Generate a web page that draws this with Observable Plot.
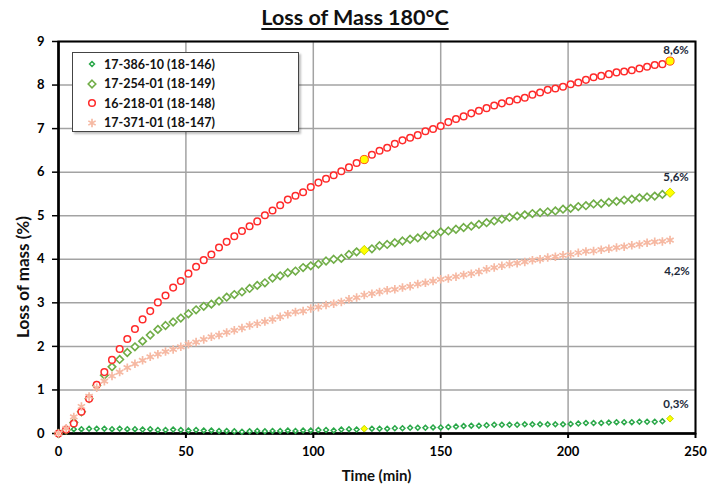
<!DOCTYPE html>
<html>
<head>
<meta charset="utf-8">
<script src="https://cdn.jsdelivr.net/npm/d3@7"></script>
<script src="https://cdn.jsdelivr.net/npm/@observablehq/plot@0.6"></script>
<style>
  html, body { margin: 0; padding: 0; background: #fff; }
  #wrap { position: relative; width: 710px; height: 486px; font-family: Lato, "Open Sans", sans-serif; color: #111; }
  #wrap svg.plot { position: absolute; left: 0; top: 0; }
  .title { position: absolute; left: 0; width: 710px; top: 4px; text-align: center; font-weight: bold; font-size: 21.5px; }
  .title span { text-decoration: underline; text-decoration-thickness: 1.5px; text-underline-offset: 3px; }
  .xlabel { position: absolute; left: 58px; width: 637px; top: 466px; text-align: center; font-weight: bold; font-size: 15px; }
  .ylabel { position: absolute; left: 22px; top: 277px; transform: translate(-50%, -50%) rotate(-90deg); white-space: nowrap; font-weight: bold; font-size: 17px; }
  .legend { position: absolute; left: 72px; top: 52px; width: 227px; height: 80px; background: #fff; border: 1.5px solid #444; box-shadow: 2px 2px 2px rgba(0,0,0,0.25); box-sizing: border-box; }
  .legend .row { position: absolute; left: 0; height: 18px; display: flex; align-items: center; font-weight: bold; font-size: 12.5px; white-space: nowrap; }
  .legend svg { width: 14px; height: 14px; margin-left: 12px; margin-right: 5px; overflow: visible; }
</style>
</head>
<body>
<div id="wrap"></div>
<script>
// ---- data ----
const seriesNames = ["17-386-10 (18-146)", "17-254-01 (18-149)", "16-218-01 (18-148)", "17-371-01 (18-147)"];
const times = [0,3,6,9,12,15,18,21,24,27,30,33,36,39,42,45,48,51,54,57,60,63,66,69,72,75,78,81,84,87,90,93,96,99,102,105,108,111,114,117,120,123,126,129,132,135,138,141,144,147,150,153,156,159,162,165,168,171,174,177,180,183,186,189,192,195,198,201,204,207,210,213,216,219,222,225,228,231,234,237,240];
const s18146 = [0,0.09,0.10,0.10,0.11,0.11,0.11,0.10,0.11,0.10,0.10,0.09,0.10,0.08,0.08,0.09,0.08,0.07,0.08,0.07,0.07,0.06,0.06,0.05,0.04,0.05,0.06,0.05,0.06,0.06,0.07,0.06,0.07,0.07,0.08,0.08,0.07,0.09,0.10,0.09,0.11,0.11,0.11,0.11,0.12,0.12,0.13,0.13,0.13,0.14,0.14,0.15,0.16,0.17,0.18,0.18,0.19,0.20,0.20,0.20,0.20,0.21,0.21,0.21,0.21,0.21,0.21,0.22,0.23,0.24,0.24,0.24,0.25,0.26,0.26,0.26,0.27,0.27,0.27,0.28,0.34];
const s18149 = [0,0.08,0.25,0.50,0.80,1.10,1.34,1.53,1.70,1.86,1.99,2.12,2.26,2.39,2.48,2.56,2.65,2.75,2.84,2.92,2.97,3.04,3.13,3.19,3.25,3.33,3.40,3.46,3.57,3.62,3.69,3.73,3.81,3.85,3.89,3.96,4.00,4.02,4.11,4.17,4.21,4.24,4.31,4.34,4.38,4.42,4.46,4.49,4.54,4.57,4.63,4.65,4.69,4.73,4.76,4.80,4.84,4.88,4.92,4.96,4.99,5.02,5.05,5.07,5.09,5.11,5.15,5.17,5.21,5.23,5.27,5.28,5.31,5.33,5.36,5.38,5.41,5.43,5.45,5.49,5.53];
const s18148 = [0,0.09,0.23,0.50,0.80,1.12,1.41,1.69,1.94,2.17,2.40,2.62,2.81,3.01,3.17,3.35,3.50,3.67,3.83,3.98,4.11,4.27,4.40,4.53,4.65,4.76,4.87,5.01,5.12,5.24,5.37,5.46,5.54,5.66,5.76,5.85,5.93,6.02,6.11,6.21,6.29,6.40,6.49,6.56,6.65,6.73,6.79,6.85,6.94,6.99,7.06,7.15,7.22,7.28,7.35,7.41,7.47,7.53,7.58,7.63,7.67,7.71,7.78,7.83,7.89,7.92,7.96,8.02,8.06,8.12,8.18,8.21,8.25,8.29,8.31,8.34,8.38,8.42,8.46,8.48,8.55];
const s18147 = [0,0.12,0.38,0.62,0.85,1.05,1.20,1.32,1.41,1.51,1.60,1.68,1.76,1.82,1.88,1.93,1.99,2.05,2.10,2.16,2.22,2.26,2.32,2.37,2.42,2.48,2.52,2.57,2.62,2.68,2.74,2.79,2.81,2.87,2.90,2.95,2.98,3.02,3.08,3.12,3.18,3.21,3.25,3.29,3.31,3.35,3.38,3.43,3.46,3.50,3.54,3.56,3.60,3.64,3.67,3.71,3.77,3.81,3.85,3.89,3.91,3.94,3.98,4.00,4.04,4.06,4.09,4.11,4.15,4.18,4.19,4.22,4.24,4.27,4.29,4.32,4.34,4.38,4.40,4.41,4.44];
const highlightTimes = [120, 240];
const endLabels = ["0,3%", "5,6%", "8,6%", "4,2%"];
const xTicks = [0, 50, 100, 150, 200, 250];
const yTicks = [0, 1, 2, 3, 4, 5, 6, 7, 8, 9];
const titleText = "Loss of Mass 180°C";
const xLabel = "Time (min)";
const yLabel = "Loss of mass (%)";

// ---- styles ----
const styles = [
  {symbol: "diamond2", r: 2.2, stroke: "#2ba84a", sw: 1.5, hl: true},
  {symbol: "diamond2", r: 3.4, stroke: "#70ad47", sw: 1.6, hl: true},
  {symbol: "circle",   r: 3.3, stroke: "#ff2a2a", sw: 1.5, hl: true},
  {symbol: "asterisk", r: 4.0, stroke: "#f6b9a3", sw: 1.7, hl: false}
];
const labelOffsets = [[6, -14], [6, -15], [6, -11], [7, 31]];

const seriesValues = [s18146, s18149, s18148, s18147];
const seriesData = seriesValues.map((vals, i) => times.map((t, j) => ({t, v: vals[j], s: seriesNames[i]})));

const marks = [
  Plot.ruleY(yTicks.filter(d => d > 0), {stroke: "#a3a3a3", strokeWidth: 1.5}),
  Plot.ruleX(xTicks.filter(d => d > 0), {stroke: "#a3a3a3", strokeWidth: 1.5}),
  Plot.frame({stroke: "#000", strokeWidth: 2}),
  Plot.ruleX([0], {stroke: "#000", strokeWidth: 2.5}),
  Plot.ruleY([0], {stroke: "#000", strokeWidth: 2.5}),
  Plot.axisY({ticks: yTicks, tickSize: 6, tickPadding: 8, fontSize: 13, fontWeight: "bold", label: null, stroke: "#000", strokeWidth: 1.5}),
  Plot.axisX({ticks: xTicks, tickSize: 5, tickPadding: 8, fontSize: 13, fontWeight: "bold", label: null, stroke: "#000", strokeWidth: 2})
];
seriesData.forEach((data, i) => {
  const st = styles[i];
  marks.push(Plot.dot(data, {x: "t", y: "v", symbol: st.symbol, r: st.r, stroke: st.stroke, strokeWidth: st.sw, fill: "white"}));
});
seriesData.forEach((data, i) => {
  const st = styles[i];
  if (!st.hl) return;
  marks.push(Plot.dot(data.filter(d => highlightTimes.includes(d.t)), {x: "t", y: "v", symbol: st.symbol, r: st.r + 0.8, stroke: i === 2 ? "#ff5a1a" : "#d8e000", strokeWidth: 1, fill: "#ffff00"}));
});
seriesData.forEach((data, i) => {
  const last = data[data.length - 1];
  marks.push(Plot.text([{...last, label: endLabels[i]}], {x: "t", y: "v", text: "label", dx: labelOffsets[i][0], dy: labelOffsets[i][1], fontSize: 11.5, fontWeight: "bold", fill: "#1d2a3a"}));
});

const chart = Plot.plot({
  width: 710,
  height: 486,
  marginLeft: 58,
  marginRight: 15,
  marginTop: 41,
  marginBottom: 53,
  style: {fontFamily: "Lato, 'Open Sans', sans-serif", color: "#000", background: "#fff"},
  x: {domain: [0, 250]},
  y: {domain: [0, 9]},
  marks
});
chart.classList.add("plot");

const wrap = document.getElementById("wrap");
wrap.appendChild(chart);

const title = document.createElement("div");
title.className = "title";
const ts = document.createElement("span");
ts.textContent = titleText;
title.appendChild(ts);
wrap.appendChild(title);

const xl = document.createElement("div");
xl.className = "xlabel";
xl.textContent = xLabel;
wrap.appendChild(xl);

const yl = document.createElement("div");
yl.className = "ylabel";
yl.textContent = yLabel;
wrap.appendChild(yl);

// legend
const legend = document.createElement("div");
legend.className = "legend";
const symMap = {diamond2: d3.symbolDiamond2, circle: d3.symbolCircle, asterisk: d3.symbolAsterisk};
seriesNames.forEach((name, i) => {
  const st = styles[i];
  const row = document.createElement("div");
  row.className = "row";
  row.style.top = (2 + i * 19.5) + "px";
  const svg = d3.create("svg").attr("viewBox", "-7 -7 14 14");
  svg.append("path")
    .attr("d", d3.symbol(symMap[st.symbol], Math.PI * st.r * st.r)())
    .attr("fill", "white").attr("stroke", st.stroke).attr("stroke-width", st.sw);
  row.appendChild(svg.node());
  const tx = document.createElement("span");
  tx.textContent = name;
  row.appendChild(tx);
  legend.appendChild(row);
});
wrap.appendChild(legend);
</script>
</body>
</html>
